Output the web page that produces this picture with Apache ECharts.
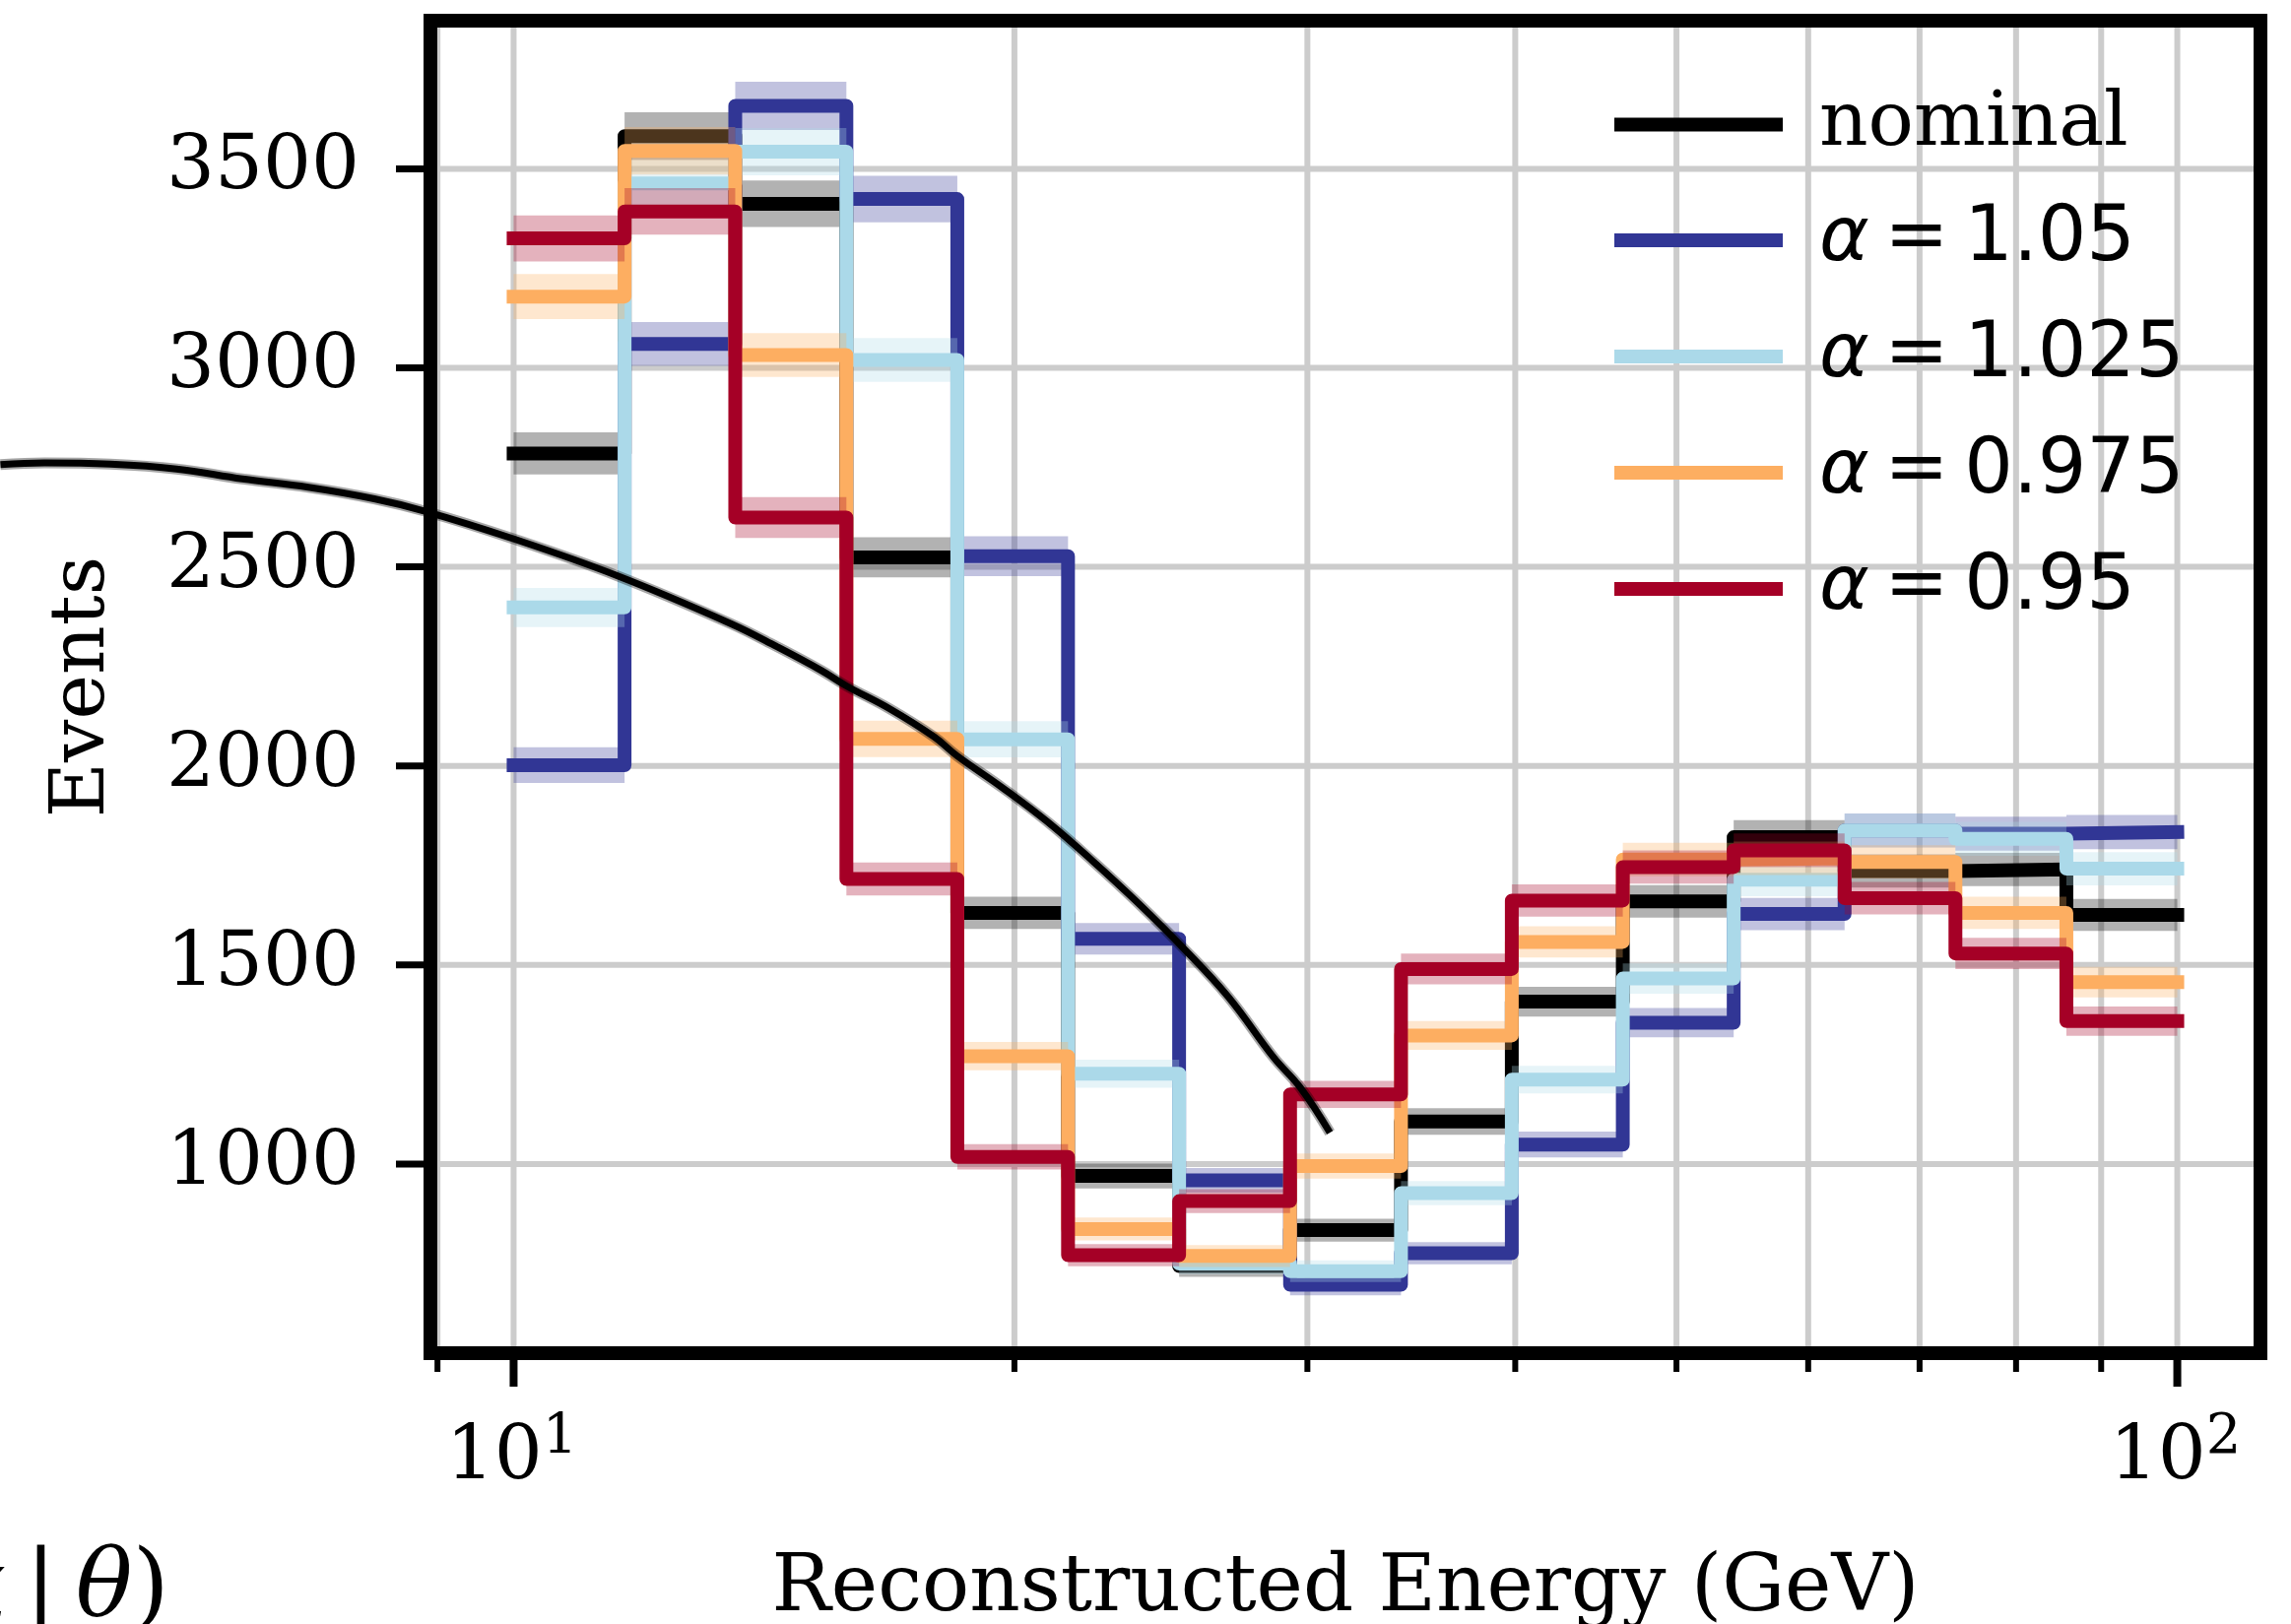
<!DOCTYPE html>
<html>
<head>
<meta charset="utf-8">
<script src="https://cdn.jsdelivr.net/npm/echarts@6.0.0/dist/echarts.min.js"></script>
<style>
html, body { margin: 0; padding: 0; background: #ffffff; }
#chart { width: 2326px; height: 1649px; }
</style>
</head>
<body>
<div id="chart"></div>
<script>
// ---------------- data ----------------
const binEdges  = [10, 11.66, 13.59, 15.85, 18.48, 21.54, 25.12, 29.29, 34.15, 39.81, 46.42, 54.12, 63.10, 73.56, 85.77, 100];
const nominal   = [2785, 3582, 3412, 2524, 1631, 970, 744, 834, 1107, 1408, 1660, 1821, 1736, 1740, 1626];
const alpha1050 = [2002, 3060, 3658, 3424, 2527, 1566, 959, 697, 776, 1049, 1355, 1628, 1838, 1830, 1834];
const alpha1025 = [2398, 3463, 3543, 3020, 2067, 1227, 750, 731, 927, 1212, 1466, 1714, 1838, 1817, 1742];
const alpha0975 = [3179, 3545, 3032, 2068, 1271, 837, 769, 995, 1323, 1558, 1765, 1768, 1759, 1631, 1457];
const alpha0950 = [3325, 3393, 2624, 1716, 1018, 771, 907, 1175, 1490, 1662, 1746, 1788, 1668, 1529, 1359];
const seriesNames = ['nominal', 'α = 1.05', 'α = 1.025', 'α = 0.975', 'α = 0.95'];
const seriesValues = [nominal, alpha1050, alpha1025, alpha0975, alpha0950];

const yTickValues = [1000, 1500, 2000, 2500, 3000, 3500];
const yTickLabels = ['1000', '1500', '2000', '2500', '3000', '3500'];
const xMajorTicks = [10, 100];
const xMajorBase  = ['10', '10'];
const xMajorExp   = ['1', '2'];
const xMinorTicks = [9, 20, 30, 40, 50, 60, 70, 80, 90];

const curveEnergy = [4.915, 5.224, 5.723, 6.272, 6.869, 7.526, 8.246, 8.844, 9.973, 11.538, 13.515, 14.389, 15.32, 15.85, 16.82, 17.896, 18.466, 19.66, 20.93, 22.29, 23.727, 25.26, 26.89, 28.63, 29.71, 30.95];
const curveEvents = [2757, 2761, 2758, 2746, 2721, 2700, 2671, 2640, 2572, 2478, 2357, 2300, 2239, 2201, 2144, 2073, 2026, 1946, 1860, 1761, 1656, 1543, 1420, 1268, 1192, 1079];

// ---------------- styles / layout ----------------
const lineColors = ['#000000', '#313695', '#abd9e9', '#fdae61', '#a50026'];
const bandColors = ['rgba(0,0,0,0.3)', 'rgba(49,54,149,0.3)', 'rgba(171,217,233,0.3)', 'rgba(253,174,97,0.3)', 'rgba(165,0,38,0.3)'];
const LOG_MIN = 0.95, LOG_MAX = 2.05;
const xMin = Math.pow(10, LOG_MIN), xMax = Math.pow(10, LOG_MAX);
const yMin = 525, yMax = 3872;
const CW = 2326, CH = 1649;
const GL = 437, GT = 21, GW = 1858, GH = 1353;
// overlay axes spanning the whole canvas with the same scales (for the stray curve)
const pxPerDecade = GW / (LOG_MAX - LOG_MIN);
const evPerPx = (yMax - yMin) / GH;
const x2Min = Math.pow(10, LOG_MIN - GL / pxPerDecade);
const x2Max = Math.pow(10, LOG_MIN + (CW - GL) / pxPerDecade);
const y2Max = yMax + GT * evPerPx;
const y2Min = yMin - (CH - GT - GH) * evPerPx;

const SERIF = 'DejaVu Serif';
const FS = 77;

const chart = echarts.init(document.getElementById('chart'), null, { renderer: 'canvas' });

function gridRender(params, api) {
  const cs = params.coordSys;
  const L = cs.x, T = cs.y, R = cs.x + cs.width, B = cs.y + cs.height;
  const st = { stroke: '#cccccc', lineWidth: 6 };
  const kids = [];
  yTickValues.forEach(v => {
    const y = api.coord([10, v])[1];
    kids.push({ type: 'line', shape: { x1: L + 7, y1: y, x2: R - 7, y2: y }, style: st });
  });
  xMajorTicks.concat(xMinorTicks).forEach(v => {
    const x = api.coord([v, 1000])[0];
    kids.push({ type: 'line', shape: { x1: x, y1: T + 7, x2: x, y2: B - 7 }, style: st });
  });
  return { type: 'group', children: kids };
}

function frameRender(params, api) {
  const cs = params.coordSys;
  const L = cs.x, T = cs.y, B = cs.y + cs.height;
  const kids = [];
  yTickValues.forEach((v, i) => {
    const y = api.coord([10, v])[1];
    kids.push({ type: 'line', shape: { x1: L - 35, y1: y, x2: L, y2: y }, style: { stroke: '#000', lineWidth: 7 } });
    kids.push({ type: 'text', x: L - 72, y: y, style: { text: yTickLabels[i], fontFamily: SERIF, fontSize: FS, fill: '#000', align: 'right', verticalAlign: 'middle' } });
  });
  xMinorTicks.forEach(v => {
    const x = api.coord([v, 1000])[0];
    kids.push({ type: 'line', shape: { x1: x, y1: B, x2: x, y2: B + 19 }, style: { stroke: '#000', lineWidth: 6 } });
  });
  xMajorTicks.forEach((v, i) => {
    const x = api.coord([v, 1000])[0];
    kids.push({ type: 'line', shape: { x1: x, y1: B, x2: x, y2: B + 34 }, style: { stroke: '#000', lineWidth: 8 } });
    kids.push({ type: 'text', x: x - 2, y: B + 107, style: {
      text: '{b|' + xMajorBase[i] + '}{s|' + xMajorExp[i] + '}',
      align: 'center', verticalAlign: 'middle', fill: '#000',
      rich: {
        b: { fontFamily: SERIF, fontSize: FS, lineHeight: 98, verticalAlign: 'middle', fill: '#000' },
        s: { fontFamily: SERIF, fontSize: 56, lineHeight: 56, verticalAlign: 'top', fill: '#000' }
      }
    } });
  });
  kids.push({ type: 'rect', shape: { x: L, y: T, width: cs.width, height: cs.height }, style: { fill: 'none', stroke: '#000', lineWidth: 14 } });
  return { type: 'group', children: kids };
}

function makeBandRender(color) {
  return function (params, api) {
    const lo = api.value(0), hi = api.value(1), v = api.value(2);
    const e = Math.sqrt(v);
    const p1 = api.coord([lo, v + e]);
    const p2 = api.coord([hi, v - e]);
    return { type: 'rect', shape: { x: p1[0], y: p1[1], width: p2[0] - p1[0], height: p2[1] - p1[1] }, style: { fill: color } };
  };
}

const series = [];
series.push({ type: 'custom', name: 'gridlines', renderItem: gridRender, data: [[10, 1000]], z: 1, silent: true, clip: false });

seriesValues.forEach((vals, k) => {
  series.push({
    type: 'custom', name: seriesNames[k] + ' band', silent: true, z: 3 + 2 * k,
    renderItem: makeBandRender(bandColors[k]),
    encode: { x: [0, 1], y: 2 },
    data: vals.map((v, i) => [binEdges[i], binEdges[i + 1], v])
  });
  series.push({
    type: 'line', name: seriesNames[k], step: 'end', symbol: 'none', silent: true, z: 4 + 2 * k,
    data: binEdges.map((e, i) => [e, vals[Math.min(i, vals.length - 1)]]),
    itemStyle: { color: lineColors[k] },
    lineStyle: { color: lineColors[k], width: 14, cap: 'square', join: 'round' }
  });
});

const curveData = curveEnergy.map((e, i) => [e, curveEvents[i]]);
series.push({
  type: 'line', name: 'curve-halo', smooth: 0.4, symbol: 'none', silent: true, z: 20, clip: false,
  xAxisIndex: 1, yAxisIndex: 1, data: curveData,
  lineStyle: { color: 'rgba(0,0,0,0.35)', width: 11 }
});
series.push({
  type: 'line', name: 'curve', smooth: 0.4, symbol: 'none', silent: true, z: 21, clip: false,
  xAxisIndex: 1, yAxisIndex: 1, data: curveData,
  lineStyle: { color: '#000', width: 7 }
});

series.push({ type: 'custom', name: 'frame', renderItem: frameRender, data: [[10, 1000]], z: 30, silent: true, clip: false });

const hiddenAxisParts = { axisLine: { show: false }, axisTick: { show: false }, axisLabel: { show: false }, splitLine: { show: false } };

const option = {
  animation: false,
  backgroundColor: '#ffffff',
  grid: [
    { left: GL, top: GT, width: GW, height: GH, show: false, containLabel: false, outerBoundsMode: 'none' },
    { left: 0, top: 0, width: CW, height: CH, show: false, containLabel: false, outerBoundsMode: 'none' }
  ],
  xAxis: [
    Object.assign({
      type: 'log', gridIndex: 0, min: xMin, max: xMax,
      minorTick: { show: false }, minorSplitLine: { show: false },
      name: 'Reconstructed Energy (GeV)', nameLocation: 'middle', nameGap: 200,
      nameTextStyle: { fontFamily: SERIF, fontSize: 80, lineHeight: 80, color: '#000' }
    }, hiddenAxisParts),
    Object.assign({ type: 'log', gridIndex: 1, min: x2Min, max: x2Max, show: false }, hiddenAxisParts)
  ],
  yAxis: [
    Object.assign({
      type: 'value', gridIndex: 0, min: yMin, max: yMax,
      name: 'Events', nameLocation: 'middle', nameGap: 314,
      nameTextStyle: { fontFamily: SERIF, fontSize: 77, lineHeight: 77, color: '#000' }
    }, hiddenAxisParts),
    Object.assign({ type: 'value', gridIndex: 1, min: y2Min, max: y2Max, show: false }, hiddenAxisParts)
  ],
  legend: {
    data: seriesNames,
    orient: 'vertical', left: 1639, top: 88, padding: 0,
    itemWidth: 171, itemHeight: 14, itemGap: 40, icon: 'rect',
    selectedMode: false, z: 40,
    formatter: function (name) {
      if (name === 'nominal') return '{n|nominal}';
      return '{a|α}{t|\u2009=\u2009' + name.split('= ')[1] + '}';
    },
    textStyle: {
      color: '#000',
      rich: {
        n: { fontFamily: SERIF, fontSize: FS, lineHeight: 90, color: '#000', padding: [0, 0, 0, 32] },
        a: { fontFamily: 'DejaVu Sans', fontStyle: 'italic', fontSize: FS, lineHeight: 90, color: '#000', padding: [0, 0, 0, 32] },
        t: { fontFamily: 'DejaVu Sans', fontSize: 78, lineHeight: 90, color: '#000' }
      }
    }
  },
  graphic: [{
    type: 'text', x: 172, y: 1616, z: 50,
    style: {
      text: '{i|x}\u2009|\u2009{i|θ})', align: 'right', verticalAlign: 'middle', fill: '#000',
      rich: {
        i: { fontFamily: SERIF, fontStyle: 'italic', fontSize: 96, fill: '#000' }
      },
      fontFamily: SERIF, fontSize: 96
    }
  }],
  series: series
};
chart.setOption(option);
</script>
</body>
</html>
